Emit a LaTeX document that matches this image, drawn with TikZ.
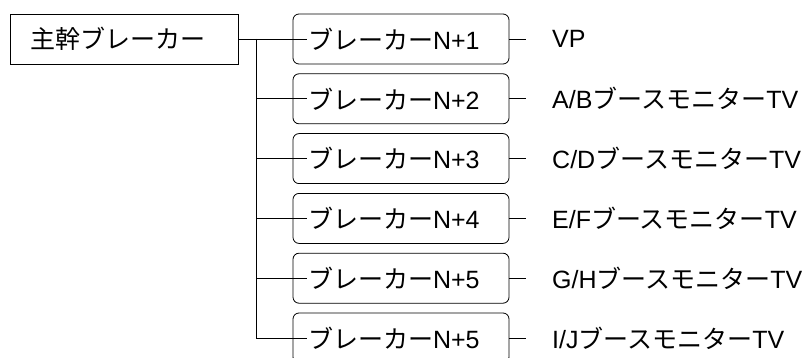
\documentclass[tikz,border=0pt]{standalone}
\usepackage{fontspec}
\setmainfont{Liberation Sans}
\newfontfamily\jpfont{Noto Sans CJK JP}
\newcommand{\J}[1]{{\jpfont #1}}
\begin{document}
\begin{tikzpicture}[x=1pt,y=-1pt,
  every node/.style={font=\fontsize{25}{28}\selectfont},
  mainbox/.style={draw, line width=0.8pt, minimum height=50pt, inner xsep=20pt, text width=188pt, align=left},
  brkbox/.style={draw, line width=0.8pt, rounded corners=6pt, minimum height=50pt, inner xsep=15pt, text width=186pt, align=left},
  lbl/.style={anchor=west, inner sep=0pt},
  conn/.style={line width=0.8pt}]
\useasboundingbox (0,0) rectangle (805,358);
\clip (0,0) rectangle (805,358);
\node[mainbox] (main) at (124,39) {\J{主幹ブレーカー}};
\foreach \i/\n in {1/1,2/2,3/3,4/4,5/5,6/5}{
  \pgfmathsetmacro{\yy}{39+59.8*(\i-1)}
  \node[brkbox] (b\i) at (401,\yy) {\J{ブレーカー}N+\n};
  \coordinate (j\i) at (256,\yy);
}
\node[lbl] (l1) at (552,39) {VP};
\node[lbl] (l2) at (552,98.8) {A/B\J{ブースモニター}TV};
\node[lbl] (l3) at (552,158.6) {C/D\J{ブースモニター}TV};
\node[lbl] (l4) at (552,218.4) {E/F\J{ブースモニター}TV};
\node[lbl] (l5) at (552,278.2) {G/H\J{ブースモニター}TV};
\node[lbl] (l6) at (552,338) {I/J\J{ブースモニター}TV};
\draw[conn] (main.east) -- ([xshift=14pt]b1.west);
\draw[conn] (j1) -- (j6) -- ([xshift=14pt]b6.west);
\foreach \i in {2,3,4,5}{
  \draw[conn] (j\i) -- ([xshift=14pt]b\i.west);
}
\foreach \i in {1,...,6}{
  \draw[conn] (b\i.east) -- ([xshift=-26pt]l\i.west |- b\i.east);
}
\end{tikzpicture}
\end{document}
